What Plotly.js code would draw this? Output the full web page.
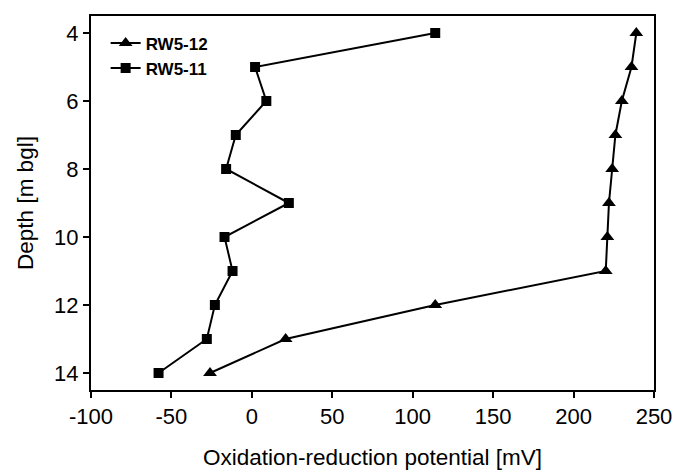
<!DOCTYPE html>
<html>
<head>
<meta charset="utf-8">
<script src="https://cdn.plot.ly/plotly-3.0.1.min.js"></script>
<style>html,body{margin:0;padding:0;background:#fff;}#chart{width:676px;height:470px;}</style>
</head>
<body>
<div id="chart"></div>
<script>
const depth = [4, 5, 6, 7, 8, 9, 10, 11, 12, 13, 14];
const rw512 = [239, 236, 230, 226, 224, 222, 221, 220, 114, 21, -26];
const rw511 = [114, 2, 9, -10, -16, 23, -17, -12, -23, -28, -58];
const xTicks = [-100, -50, 0, 50, 100, 150, 200, 250];
const yTicks = [4, 6, 8, 10, 12, 14];

const font = 'Liberation Sans, Arial, sans-serif';
const traces = [
  {x: rw512, y: depth, name: 'RW5-12', mode: 'lines+markers', type: 'scatter', cliponaxis: false,
   line: {color: '#000', width: 2}, marker: {symbol: 'triangle-up', size: 12, color: '#000'}},
  {x: rw511, y: depth, name: 'RW5-11', mode: 'lines+markers', type: 'scatter', cliponaxis: false,
   line: {color: '#000', width: 2}, marker: {symbol: 'square', size: 10, color: '#000'}}
];
const layout = {
  width: 676, height: 470,
  margin: {l: 91, r: 22, t: 16, b: 80},
  paper_bgcolor: '#fff', plot_bgcolor: '#fff',
  font: {family: font, color: '#000', size: 22},
  showlegend: true,
  legend: {x: 0.026, y: 0.975, xanchor: 'left', yanchor: 'top', bgcolor: 'rgba(0,0,0,0)',
           font: {family: font, size: 17, weight: 'bold', color: '#000'}, itemwidth: 30, tracegroupgap: 0},
  xaxis: {range: [-100, 250], tickvals: xTicks, ticktext: xTicks.map(String),
          showgrid: false, zeroline: false, showline: true, linecolor: '#000', linewidth: 2, mirror: true,
          ticks: 'outside', ticklen: 6, tickwidth: 2, tickcolor: '#000',
          tickfont: {family: font, size: 22, color: '#000'},
          title: {text: 'Oxidation-reduction potential [mV]', font: {family: font, size: 22.5, color: '#000'}, standoff: 22}},
  yaxis: {range: [14.5, 3.5], tickvals: yTicks, ticktext: yTicks.map(String),
          showgrid: false, zeroline: false, showline: true, linecolor: '#000', linewidth: 2, mirror: true,
          ticks: 'outside', ticklen: 6, tickwidth: 2, tickcolor: '#000',
          tickfont: {family: font, size: 22, color: '#000'},
          title: {text: 'Depth [m bgl]', font: {family: font, size: 22.5, color: '#000'}, standoff: 14}}
};
Plotly.newPlot('chart', traces, layout, {displayModeBar: false, staticPlot: true});
</script>
</body>
</html>
